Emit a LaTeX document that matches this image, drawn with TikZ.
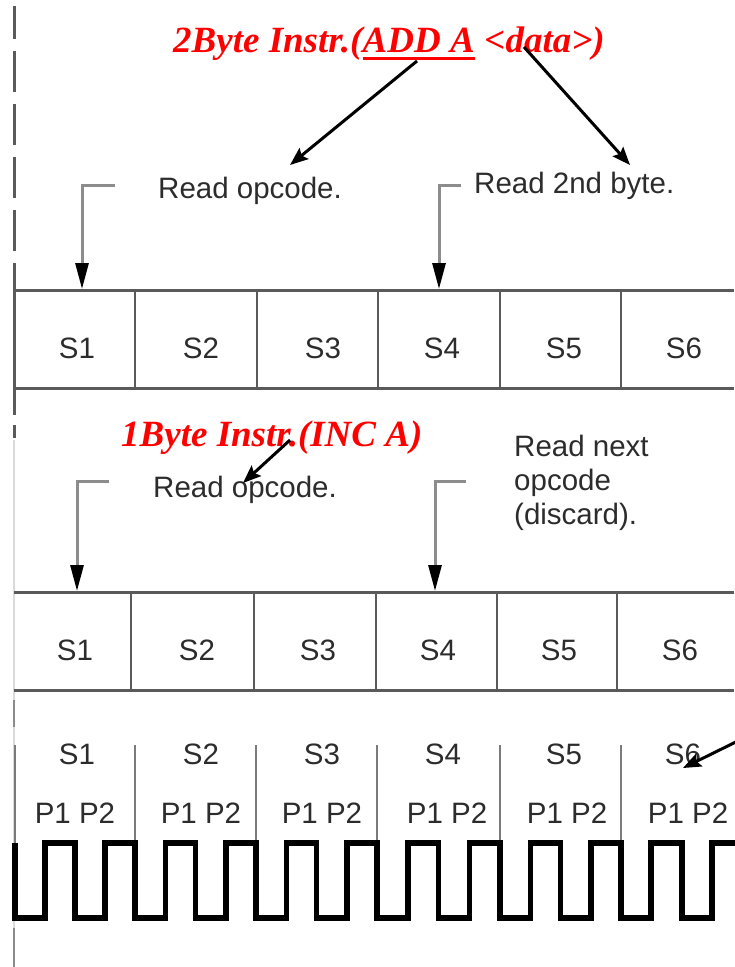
\documentclass[tikz,border=0pt]{standalone}
\usepackage{fontspec}
\usetikzlibrary{arrows.meta}
\newfontfamily\labfont{Liberation Sans}
\newfontfamily\notefont{Liberation Serif}
\definecolor{boxline}{HTML}{5A5A5A}
\definecolor{labgray}{HTML}{2C2C2C}
\definecolor{elbowgray}{HTML}{8C8C8C}
\definecolor{faintgray}{HTML}{DADADA}
\tikzset{
  lab/.style={font=\labfont\fontsize{29.5}{34}\selectfont, text=labgray, inner sep=0pt, anchor=base},
  note/.style={font=\notefont\bfseries\itshape\fontsize{37}{37}\selectfont, text=red, inner sep=0pt, anchor=base west},
  rowline/.style={draw=boxline, line width=3pt},
  divline/.style={draw=boxline, line width=2pt},
  phaseline/.style={draw=boxline!80, line width=1.6pt},
  elbowarrow/.style={draw=elbowgray, line width=3pt, -{Triangle[length=26pt,width=13pt,color=black]}},
  callout/.style={draw=black, line width=3pt, -{Stealth[length=18pt,width=14pt,inset=3pt]}},
  clock/.style={draw=black, line width=5.5pt, line join=miter},
}
\begin{document}
\begin{tikzpicture}[x=1pt,y=-1pt]
\useasboundingbox (0,0) rectangle (734,967);

% ---------- left margin rule ----------
\draw[boxline, line width=3pt, dash pattern=on 41pt off 12pt, dash phase=8pt] (14,6) -- (14,290);
\draw[boxline, line width=3pt] (14,290) -- (14,415);
\draw[boxline, line width=3pt] (14,425) -- (14,438);
\draw[faintgray, line width=1.5pt] (14,440) -- (14,967);
\draw[boxline!70, line width=2pt] (14,700) -- (14,727);
\draw[boxline!70, line width=2pt] (14,928) -- (14,967);

% ---------- 2-byte instruction: state row ----------
\draw[rowline] (14,290) -- (734,290);
\draw[rowline] (14,388) -- (734,388);
\foreach \x in {135,257,378,500,621} \draw[divline] (\x,290) -- (\x,388);
\foreach \x/\n in {77/1,201/2,323/3,442/4,564/5,684/6}
  \node[lab] (a\n) at (\x,358) {S\n};

% ---------- 1-byte instruction: state row ----------
\draw[rowline] (14,592) -- (734,592);
\draw[rowline] (14,690) -- (734,690);
\foreach \x in {131,254,376,497,617} \draw[divline] (\x,592) -- (\x,690);
\foreach \x/\n in {75/1,197/2,318/3,438/4,559/5,680/6}
  \node[lab] (b\n) at (\x,660) {S\n};

% ---------- clock phases ----------
\foreach \x in {15,135,256,377,500,621} \draw[phaseline] (\x,745) -- (\x,843);
\foreach \x/\n in {77/1,201/2,322/3,443/4,564/5,683/6}
  \node[lab] (c\n) at (\x,764) {S\n};
\foreach \x/\n in {75/1,201/2,322/3,447/4,567/5,688/6}
  \node[lab] (p\n) at (\x,823) {P1 P2};

% clock waveform: two pulses per state
\draw[clock] (15,843) -- (15,918)
  \foreach \a/\b in {15/135,135/256,256/377,377/500,500/621}
  { -- ({\a+(\b-\a)/4},918) -- ({\a+(\b-\a)/4},843)
    -- ({\a+(\b-\a)/2},843) -- ({\a+(\b-\a)/2},918)
    -- ({\a+3*(\b-\a)/4},918) -- ({\a+3*(\b-\a)/4},843)
    -- (\b,843) -- (\b,918) }
  -- (651,918) -- (651,843) -- (682,843) -- (682,918)
  -- (712,918) -- (712,843) -- (745,843);

% ---------- fetch markers, 2-byte instruction ----------
\node[lab, anchor=base west] (rd1) at (158,198) {Read opcode.};
\node[lab, anchor=base west] (rd2) at (474,193) {Read 2nd byte.};
\coordinate (e1) at (115,185);
\coordinate (t1) at (82,289);
\coordinate (e2) at (461,185);
\coordinate (t2) at (439,289);
\draw[elbowarrow] (e1) -| (t1);
\draw[elbowarrow] (e2) -| (t2);

% ---------- fetch markers, 1-byte instruction ----------
\node[lab, anchor=base west] (rd3) at (153,497) {Read opcode.};
\node[lab, anchor=north west, align=left] (rd4) at (514,435) {Read next\\opcode\\(discard).};
\coordinate (e3) at (109,481);
\coordinate (t3) at (77,591);
\coordinate (e4) at (466,481);
\coordinate (t4) at (435,591);
\draw[elbowarrow] (e3) -| (t3);
\draw[elbowarrow] (e4) -| (t4);

% ---------- red annotations ----------
\node[note] (n1) at (173,52) {2Byte Instr.(};
\node[note] (add) at (n1.base east) {ADD A};
\node[note] (dat) at (add.base east) {\ {<}data{>})};
\draw[red, line width=3pt] ([yshift=-6pt]add.base west) -- ([yshift=-6pt]add.base east);

\node[note] (n2) at (121,446) {1Byte Instr.(INC A)};

\coordinate (s1) at (417,61);
\coordinate (f1) at (290,165);
\coordinate (s2) at (524,47);
\coordinate (f2) at (630,165);
\coordinate (s3) at (290,440);
\coordinate (f3) at (243,483);
\coordinate (s4) at (748,736);
\coordinate (f4) at (683,768);
\draw[callout] (s1) -- (f1);
\draw[callout] (s2) -- (f2);
\draw[callout] (s3) -- (f3);
\draw[callout] (s4) -- (f4);
\end{tikzpicture}
\end{document}
